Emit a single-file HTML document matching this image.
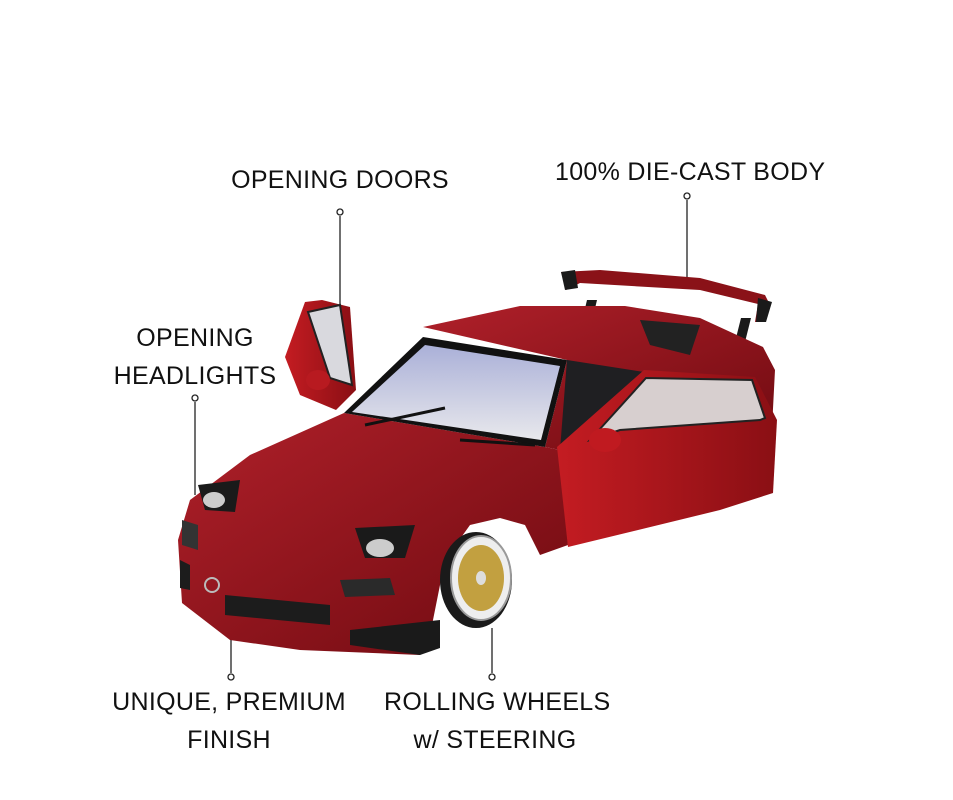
<!DOCTYPE html>
<html><head><meta charset="utf-8"><style>
html,body{margin:0;padding:0;background:#fff;}
body{width:953px;height:800px;position:relative;overflow:hidden;font-family:"Liberation Sans",sans-serif;}
.t{position:absolute;font-size:25px;color:#111;text-align:center;line-height:38px;letter-spacing:0.3px;white-space:nowrap;}
</style></head><body>
<svg width="953" height="800" style="position:absolute;left:0;top:0">
<defs>
<linearGradient id="g1" x1="0" y1="0" x2="1" y2="1"><stop offset="0" stop-color="#b0202a"/><stop offset="1" stop-color="#6e0a10"/></linearGradient>
<linearGradient id="g2" x1="0" y1="0" x2="1" y2="0"><stop offset="0" stop-color="#c41c22"/><stop offset="1" stop-color="#8a0f14"/></linearGradient>
<linearGradient id="gw" x1="0" y1="0" x2="0" y2="1"><stop offset="0" stop-color="#aab0d8"/><stop offset="1" stop-color="#e8e8ec"/></linearGradient>
</defs>
<!-- connectors -->
<g stroke="#222" stroke-width="1.3" fill="#fff">
<line x1="340" y1="216" x2="340" y2="305"/><circle cx="340" cy="212" r="3"/>
<line x1="687" y1="200" x2="687" y2="277"/><circle cx="687" cy="196" r="3"/>
<line x1="195" y1="402" x2="195" y2="495"/><circle cx="195" cy="398" r="3"/>
<line x1="231" y1="673" x2="231" y2="620"/><circle cx="231" cy="677" r="3"/>
<line x1="492" y1="673" x2="492" y2="628"/><circle cx="492" cy="677" r="3"/>
</g>
<!-- spoiler struts -->
<polygon points="587,300 597,300 588,338 578,338" fill="#1a1a1a"/>
<polygon points="741,318 751,318 740,362 730,362" fill="#1a1a1a"/>
<!-- roof/rear body -->
<polygon points="423,327 520,306 625,306 700,318 763,347 775,370 771,447 560,450 545,447 567,360" fill="url(#g1)"/>
<polygon points="640,320 700,325 690,355 650,345" fill="#222"/>
<!-- spoiler -->
<polygon points="561,272 600,270 700,278 765,295 770,305 763,322 755,322 758,304 700,290 580,283 566,290" fill="#8a1218"/>
<polygon points="561,272 575,270 578,288 565,290" fill="#1a1a1a"/>
<polygon points="758,298 772,302 766,322 756,322" fill="#1a1a1a"/>
<!-- interior -->
<polygon points="567,360 644,372 600,450 560,450" fill="#1f1f22"/>
<!-- left open door -->
<polygon points="285,357 305,302 322,300 350,307 356,390 336,410 300,395" fill="url(#g2)"/>
<polygon points="308,312 340,305 352,385 330,378" fill="#d9d9de" stroke="#222" stroke-width="2"/>
<ellipse cx="318" cy="380" rx="12" ry="10" fill="#b81a20"/>
<!-- front body -->
<polygon points="344,413 545,447 560,450 568,545 540,555 525,525 500,518 470,525 445,560 432,625 420,655 300,650 230,640 182,603 178,540 190,500 250,455" fill="url(#g1)"/>
<!-- windshield -->
<polygon points="344,413 423,337 567,360 545,447" fill="#111"/>
<polygon points="352,412 425,345 560,366 541,440" fill="url(#gw)"/>
<line x1="365" y1="425" x2="445" y2="408" stroke="#111" stroke-width="3"/>
<line x1="460" y1="440" x2="535" y2="445" stroke="#111" stroke-width="3"/>
<!-- open right door -->
<polygon points="557,447 644,370 755,377 777,420 773,493 720,510 568,547" fill="url(#g2)"/>
<polygon points="590,440 646,378 752,380 765,418 760,420 620,430" fill="#d7cfcf" stroke="#222" stroke-width="2"/>
<ellipse cx="605" cy="440" rx="16" ry="12" fill="#c01a20"/>
<!-- headlights -->
<polygon points="198,485 240,480 235,512 205,510" fill="#1a1a1a"/>
<ellipse cx="214" cy="500" rx="11" ry="8" fill="#ccc"/>
<polygon points="355,528 415,525 405,558 365,558" fill="#1a1a1a"/>
<ellipse cx="380" cy="548" rx="14" ry="9" fill="#ccc"/>
<polygon points="182,520 198,525 198,550 182,545" fill="#333"/>
<polygon points="340,580 390,578 395,595 345,597" fill="#2a2a2a"/>
<!-- grill / splitter -->
<polygon points="225,595 330,605 330,625 225,615" fill="#1c1c1c"/>
<polygon points="180,560 190,565 190,590 180,588" fill="#1c1c1c"/>
<polygon points="350,630 440,620 440,648 420,655 350,645" fill="#1a1a1a"/>
<circle cx="212" cy="585" r="7" fill="none" stroke="#bbb" stroke-width="2"/>
<!-- wheel -->
<ellipse cx="476" cy="580" rx="36" ry="48" fill="#1a1a1a"/>
<ellipse cx="481" cy="578" rx="30" ry="42" fill="#eee" stroke="#999" stroke-width="2"/>
<ellipse cx="481" cy="578" rx="23" ry="33" fill="#c2a040"/>
<ellipse cx="481" cy="578" rx="5" ry="7" fill="#ddd"/>
</svg>
<div class="t" style="left:230px;top:161px;width:220px">OPENING DOORS</div>
<div class="t" style="left:555px;top:153px;width:264px">100% DIE-CAST BODY</div>
<div class="t" style="left:110px;top:319px;width:170px">OPENING<br>HEADLIGHTS</div>
<div class="t" style="left:100px;top:683px;width:258px">UNIQUE, PREMIUM<br>FINISH</div>
<div class="t" style="left:384px;top:683px;width:222px">ROLLING WHEELS<br>w/ STEERING</div>
</body></html>
